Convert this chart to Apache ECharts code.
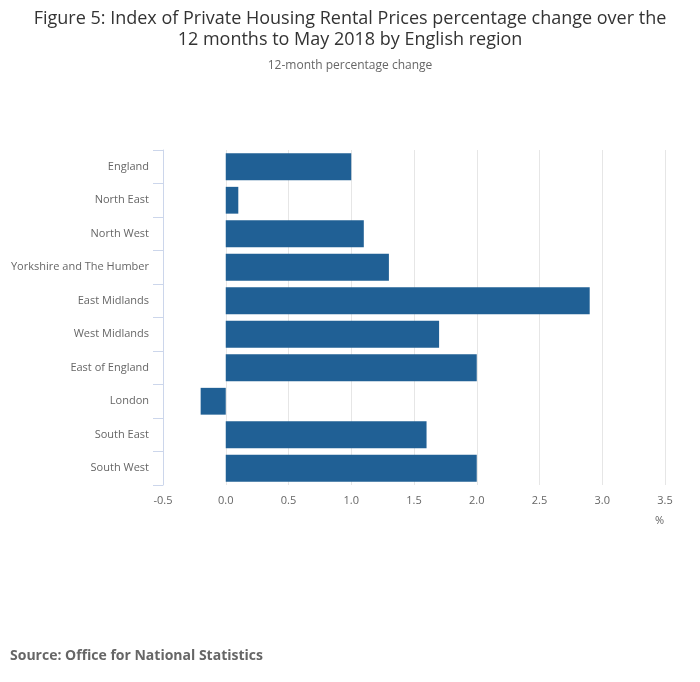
<!DOCTYPE html>
<html>
<head>
  <meta charset="UTF-8">
  <title>Figure 5</title>
  <script src="https://cdn.jsdelivr.net/npm/echarts@6/dist/echarts.min.js"></script>
  <style>
    html, body { margin: 0; padding: 0; background: #fff; }
    #chart { width: 700px; height: 682px; }
  </style>
</head>
<body>
  <div id="chart"></div>
  <script>
    // regions, top to bottom
    var regions = ['England', 'North East', 'North West', 'Yorkshire and The Humber', 'East Midlands',
      'West Midlands', 'East of England', 'London', 'South East', 'South West'];
    // 12-month percentage change
    var changes = [1.0, 0.1, 1.1, 1.3, 2.9, 1.7, 2.0, -0.2, 1.6, 2.0];

    var font = '"Open Sans", "Noto Sans", sans-serif';
    var chart = echarts.init(document.getElementById('chart'));

    var option = {
      animation: false,
      title: [
        {
          text: 'Figure 5: Index of Private Housing Rental Prices percentage change over the\n12 months to May 2018 by English region',
          left: 350,
          top: 8,
          padding: 0,
          textAlign: 'center',
          textStyle: { fontFamily: font, fontSize: 18, fontWeight: 'normal', color: '#333', lineHeight: 21 }
        },
        {
          text: '12-month percentage change',
          left: 350,
          top: 60,
          padding: 0,
          textAlign: 'center',
          textStyle: { fontFamily: font, fontSize: 12, fontWeight: 'normal', color: '#666' }
        },
        {
          text: 'Source: Office for National Statistics',
          left: 10,
          top: 649,
          padding: 0,
          textStyle: { fontFamily: font, fontSize: 14, fontWeight: 'bold', color: '#666' }
        }
      ],
      grid: { left: 163, right: 35, top: 150, bottom: 197, containLabel: false },
      xAxis: {
        type: 'value',
        min: -0.5,
        max: 3.5,
        interval: 0.5,
        axisLine: { show: false },
        axisTick: { show: false },
        splitLine: { show: true, lineStyle: { color: '#e6e6e6', width: 1 } },
        axisLabel: {
          color: '#666',
          fontFamily: font,
          fontSize: 11,
          margin: 10,
          formatter: function (v) { return v.toFixed(1); }
        }
      },
      yAxis: {
        type: 'category',
        data: regions,
        inverse: true,
        z: 5,
        axisLine: { show: true, onZero: false, lineStyle: { color: '#ccd6eb', width: 1 } },
        axisTick: { show: true, length: 10, lineStyle: { color: '#ccd6eb' } },
        splitLine: { show: false },
        axisLabel: { color: '#666', fontFamily: font, fontSize: 11, margin: 14 }
      },
      graphic: [
        {
          type: 'text',
          left: 655,
          top: 515,
          style: { text: '%', fill: '#666', font: '11px ' + font }
        }
      ],
      series: [
        {
          type: 'bar',
          data: changes,
          barCategoryGap: '20%',
          itemStyle: { color: '#206095' }
        }
      ]
    };
    chart.setOption(option);
  </script>
</body>
</html>
